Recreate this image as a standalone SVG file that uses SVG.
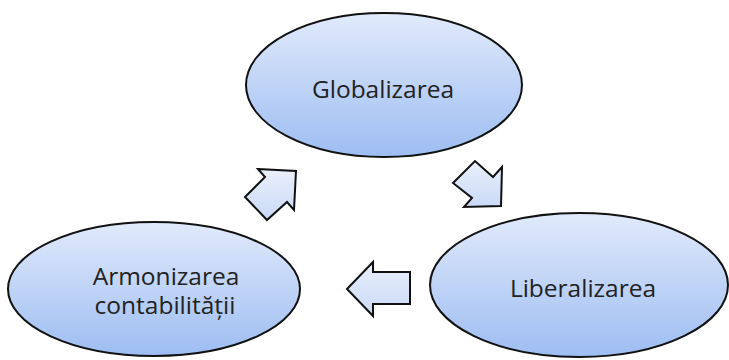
<svg xmlns="http://www.w3.org/2000/svg" width="729" height="360" viewBox="0 0 729 360">
  <defs>
    <linearGradient id="nodeFill" x1="0" y1="0" x2="0" y2="1">
      <stop offset="0" stop-color="#e1eafb"/>
      <stop offset="1" stop-color="#9dbdf2"/>
    </linearGradient>
    <linearGradient id="arrowFill" x1="0" y1="0" x2="0" y2="1">
      <stop offset="0" stop-color="#eaf0fc"/>
      <stop offset="1" stop-color="#c9d9f7"/>
    </linearGradient>
  </defs>
  <style>
    .node { fill: url(#nodeFill); stroke: #111; stroke-width: 2; }
    .arrow { fill: url(#arrowFill); stroke: #111; stroke-width: 2; stroke-linejoin: miter; }
    .label { font-family: "Open Sans", "Liberation Sans", sans-serif; font-size: 24.5px; fill: #222; text-anchor: middle; }
  </style>
  <rect width="729" height="360" fill="#ffffff"/>

  <g id="connectors">
    <!-- Armonizarea -> Globalizarea -->
    <polygon class="arrow" points="258,169 296,171 294,210 287,202 267,220 245,197 265,177"/>
    <!-- Globalizarea -> Liberalizarea -->
    <polygon class="arrow" points="453,183 475,161 493,177 502,167 501,206 464,207 472,198"/>
    <!-- Liberalizarea -> Armonizarea -->
    <polygon class="arrow" points="347,289 373,262 373,272 410,272 410,304 373,304 373,316"/>
  </g>

  <g id="node-globalizarea">
    <ellipse class="node" cx="384" cy="85" rx="138" ry="72"/>
    <text class="label" x="383" y="98">Globalizarea</text>
  </g>

  <g id="node-liberalizarea">
    <ellipse class="node" cx="579" cy="285" rx="149" ry="72"/>
    <text class="label" x="583" y="297">Liberalizarea</text>
  </g>

  <g id="node-armonizarea">
    <ellipse class="node" cx="154" cy="289" rx="146" ry="67"/>
    <text class="label" x="166" y="285">Armonizarea</text>
    <text class="label" x="165" y="314">contabilității</text>
  </g>
</svg>
